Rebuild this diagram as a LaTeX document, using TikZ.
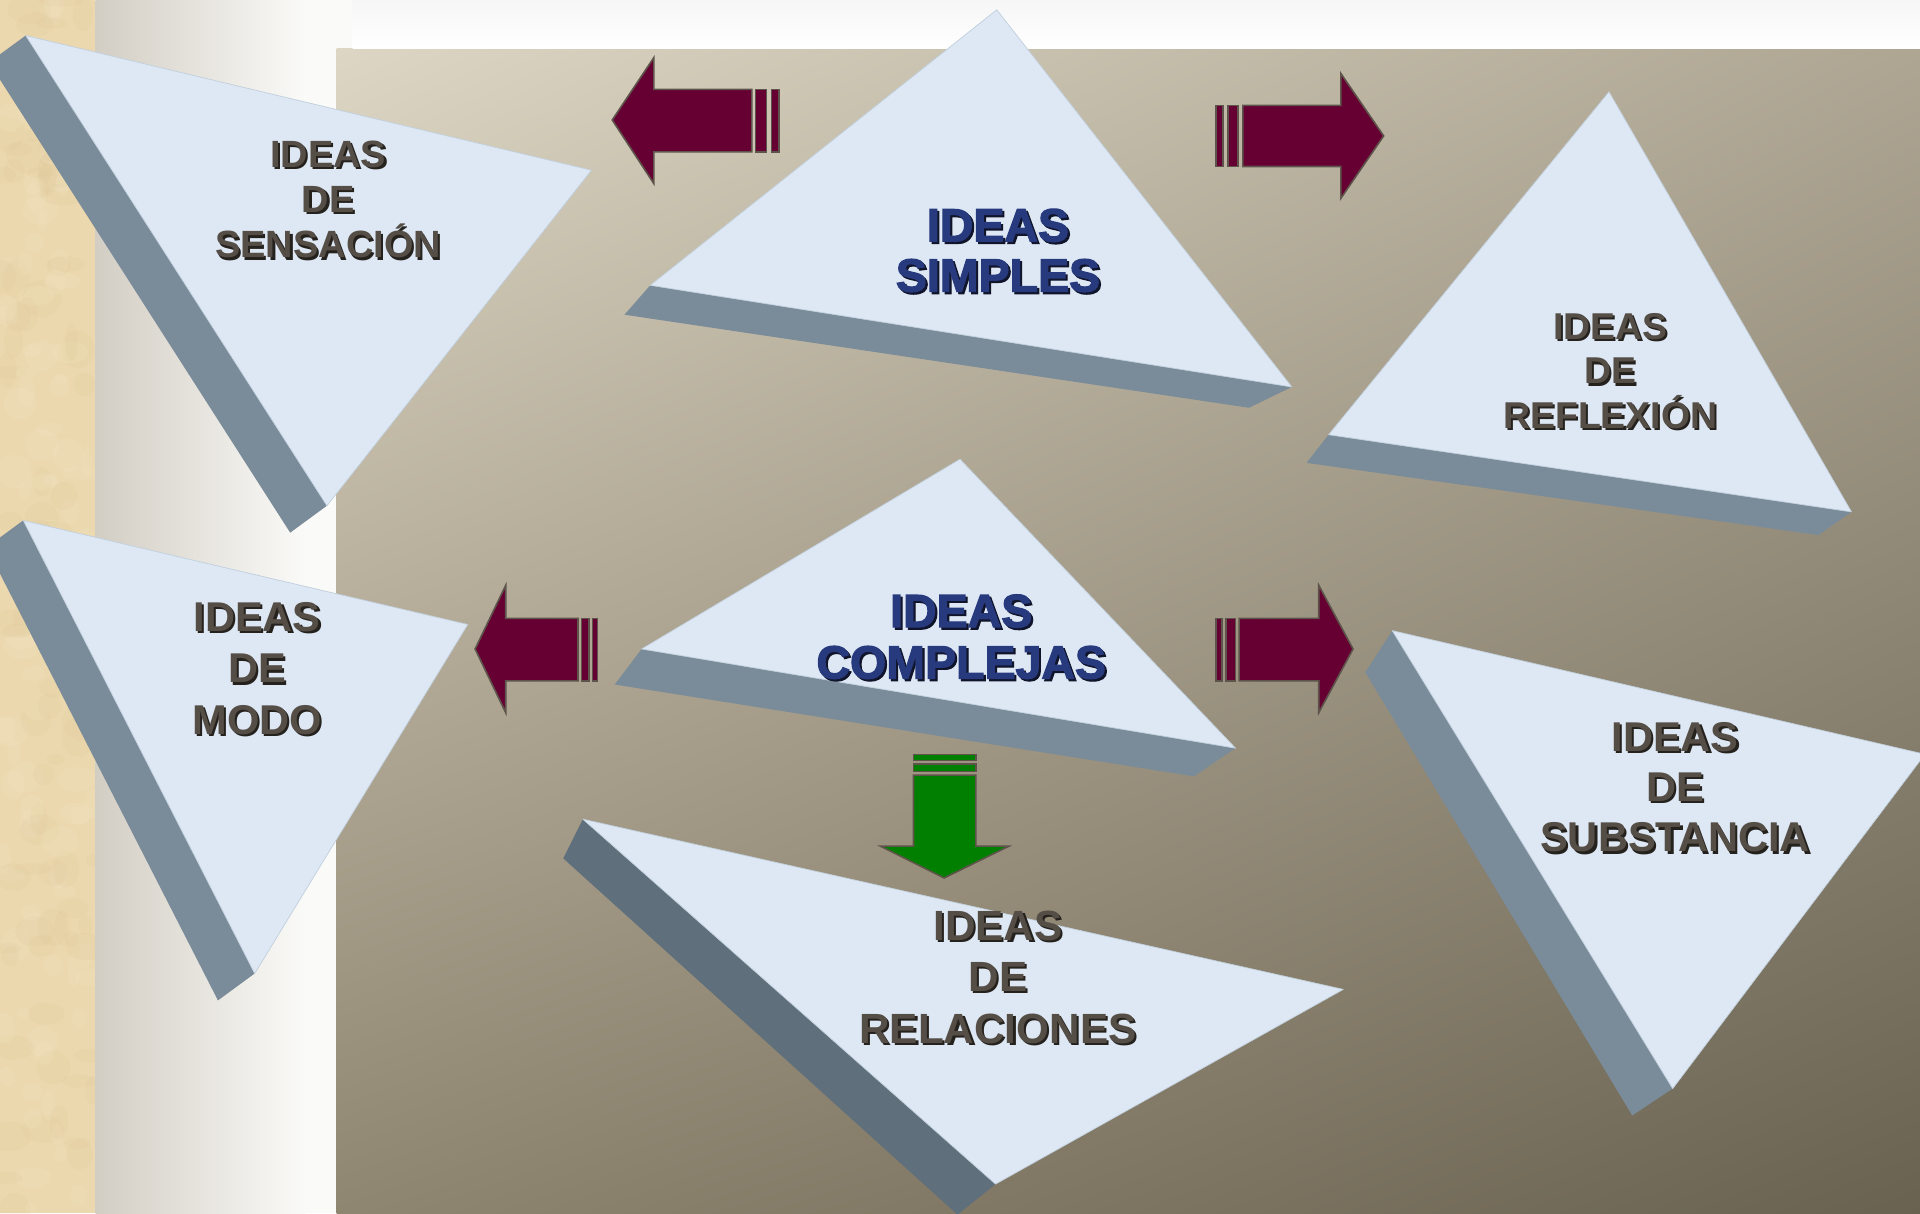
\documentclass[tikz,border=0pt]{standalone}
\usepackage{fontspec}
\setmainfont{Liberation Sans}
\newfontfamily\heavyfont{Liberation Sans}[BoldFeatures={FakeBold=2.5}]
\usetikzlibrary{shadings}
\definecolor{stripcol}{HTML}{EBD8AF}
\definecolor{blobdark}{HTML}{D8C08E}
\definecolor{bloblight}{HTML}{F5E7C8}
\definecolor{facecol}{HTML}{DDE8F4}
\definecolor{faceedge}{HTML}{C2D0DD}
\definecolor{sidecol}{HTML}{7A8B99}
\definecolor{sidedark}{HTML}{5F6F7C}
\definecolor{maroon}{HTML}{660033}
\definecolor{arrowedge}{HTML}{5E544B}
\definecolor{greenarrow}{HTML}{007F00}
\definecolor{txt}{HTML}{554E47}
\definecolor{txtshadow}{HTML}{25211D}
\definecolor{navy}{HTML}{283A7E}
\definecolor{navyshadow}{HTML}{11152B}
\definecolor{stripL}{HTML}{D3CEC4}
\definecolor{stripR}{HTML}{FAFAF8}
\definecolor{panUL}{HTML}{DDD6C4}
\definecolor{panUR}{HTML}{AEA693}
\definecolor{panLL}{HTML}{8F8671}
\definecolor{panLR}{HTML}{6A6251}

\tikzset{
  face/.style={fill=facecol, draw=faceedge, line width=0.6pt, line join=round},
  sideface/.style={fill=sidecol},
  blockarrow/.style={fill=maroon, draw=arrowedge, line width=1.3pt, line join=miter},
  greenblock/.style={fill=greenarrow, draw=arrowedge, line width=1.3pt, line join=miter},
}

\newcommand\ideatext[8]{%
  \node[align=center, text=#6shadow, font=#7\bfseries\fontsize{#4}{#5}\selectfont] (#1-shadow) at (#2+1.8,#3+1.8) {#8};
  \node[align=center, text=#6, font=#7\bfseries\fontsize{#4}{#5}\selectfont] (#1) at (#2,#3) {#8};
}

\begin{document}
\begin{tikzpicture}[x=1pt,y=-1pt]
\useasboundingbox (0,0) rectangle (1568,991);
\clip (0,0) rectangle (1568,991);

% ---------- background ----------
\begin{scope}
  \clip (0,0) rectangle (78,991);
  \fill[stripcol] (0,0) rectangle (78,991);
  \pgfmathsetseed{7}
  \foreach \i in {1,...,90} {
    \fill[blobdark, opacity=0.12] (rnd*78, rnd*991) ellipse ({5+rnd*14} and {4+rnd*12});
    \fill[bloblight, opacity=0.18] (rnd*78, rnd*991) ellipse ({4+rnd*12} and {4+rnd*10});
  }
\end{scope}
\shade[left color=stripL, right color=stripR] (78,0) rectangle (250,991);
\fill[stripR] (250,0) rectangle (288,991);
\shade[shading=bilinear interpolation, upper left=panUL, upper right=panUR, lower left=panLL, lower right=panLR] (275,40) rectangle (1568,991);
\shade[top color=white!93!gray, bottom color=white] (288,0) rectangle (1568,40);

% ---------- triangles ----------
% sensacion
\fill[sideface] (21,29) -- (267,413) -- (237,435) -- (-9,51) -- cycle;
\draw[face] (21,29) -- (483,139) -- (267,413) -- cycle;
% simples
\fill[sideface] (531,233) -- (1055,316) -- (1020,333) -- (510,257) -- cycle;
\draw[face] (814,8) -- (1055,316) -- (531,233) -- cycle;
% reflexion
\fill[sideface] (1085,355) -- (1512,418) -- (1485,437) -- (1067,378) -- cycle;
\draw[face] (1314,75) -- (1512,418) -- (1085,355) -- cycle;
% modo
\fill[sideface] (19,425) -- (208,795) -- (178,817) -- (-11,447) -- cycle;
\draw[face] (19,425) -- (382,510) -- (208,795) -- cycle;
% complejas
\fill[sideface] (524,530) -- (1009,611) -- (975,634) -- (502,559) -- cycle;
\draw[face] (784,375) -- (1009,611) -- (524,530) -- cycle;
% relaciones
\fill[sidedark] (476,669) -- (813,967) -- (782,992) -- (460,701) -- cycle;
\draw[face] (476,669) -- (1097,808) -- (813,967) -- cycle;
% substancia
\fill[sideface] (1137,515) -- (1366,889) -- (1333,911) -- (1115,549) -- cycle;
\draw[face] (1137,515) -- (1572,616) -- (1366,889) -- cycle;

% ---------- block arrows ----------
% top left
\draw[blockarrow] (614,73) -- (534,73) -- (534,47) -- (500,98) -- (534,150) -- (534,124) -- (614,124) -- cycle;
\draw[blockarrow] (617,73) rectangle (626,124);
\draw[blockarrow] (630,73) rectangle (636,124);
% top right
\draw[blockarrow] (993,86) rectangle (999,136);
\draw[blockarrow] (1003,86) rectangle (1011,136);
\draw[blockarrow] (1015,86) -- (1095,86) -- (1095,60) -- (1130,111) -- (1095,162) -- (1095,136) -- (1015,136) -- cycle;
% lower left
\draw[blockarrow] (472,505) -- (413,505) -- (413,478) -- (388,530) -- (413,582) -- (413,556) -- (472,556) -- cycle;
\draw[blockarrow] (475,505) rectangle (481,556);
\draw[blockarrow] (484,505) rectangle (488,556);
% lower right
\draw[blockarrow] (993,505) rectangle (998,556);
\draw[blockarrow] (1001,505) rectangle (1009,556);
\draw[blockarrow] (1012,505) -- (1077,505) -- (1077,478) -- (1105,530) -- (1077,582) -- (1077,556) -- (1012,556) -- cycle;
% green down
\draw[greenblock] (746,616) rectangle (797,621);
\draw[greenblock] (746,624) rectangle (797,630);
\draw[greenblock] (746,633) -- (746,691) -- (719,691) -- (771,717) -- (824,691) -- (797,691) -- (797,633) -- cycle;

% ---------- labels ----------
\ideatext{sensacion}{268}{163}{31}{37}{txt}{}{IDEAS\\DE\\SENSACIÓN}
\ideatext{simples}{815}{204.5}{38}{41}{navy}{\heavyfont}{IDEAS\\SIMPLES}
\ideatext{reflexion}{1315}{303}{30.5}{36.5}{txt}{}{IDEAS\\DE\\REFLEXIÓN}
\ideatext{modo}{210}{546}{34}{42}{txt}{}{IDEAS\\DE\\MODO}
\ideatext{complejas}{785}{520}{38}{42}{navy}{\heavyfont}{IDEAS\\COMPLEJAS}
\ideatext{relaciones}{815}{798}{34.5}{42}{txt}{}{IDEAS\\DE\\RELACIONES}
\ideatext{substancia}{1368}{643}{34}{41}{txt}{}{IDEAS\\DE\\SUBSTANCIA}
\end{tikzpicture}
\end{document}
